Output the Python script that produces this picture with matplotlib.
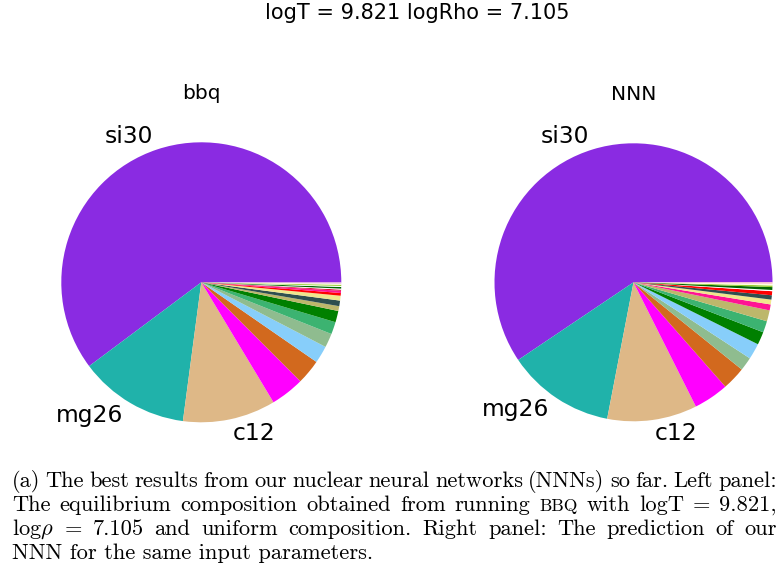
import matplotlib
matplotlib.use("Agg")
import matplotlib.pyplot as plt

plt.rcParams['mathtext.fontset'] = 'cm'

# ---------------- data ----------------
suptitle = "logT = 9.821 logRho = 7.105"
panel_titles = ["bbq", "NNN"]

# left panel (bbq) - fractions in percent, ordered as drawn (counter-clockwise from 3 o'clock)
bbq_labels = ["si30", "mg26", "c12", "", "", "", "", "", "", "", "", "", "", "", "", "", "", "", "", "", ""]
bbq_values = [60.22, 12.69, 10.72, 3.89, 2.86, 2.00, 1.61, 1.42, 1.31, 0.56, 0.64, 0.56,
              0.31, 0.25, 0.14, 0.11, 0.19, 0.11, 0.14, 0.14, 0.14]
bbq_colors = ["blueviolet", "lightseagreen", "burlywood", "magenta", "chocolate", "lightskyblue",
              "darkseagreen", "mediumseagreen", "green", "darkkhaki", "darkslategray", "khaki",
              "red", "deeppink", "crimson", "white", "darkgreen", "white", "yellowgreen",
              "lightyellow", "plum"]

# right panel (NNN)
nnn_labels = ["si30", "mg26", "c12", "", "", "", "", "", "", "", "", "", "", "", "", "", "", "", ""]
nnn_values = [59.42, 12.53, 10.44, 4.08, 2.72, 1.58, 1.86, 1.50, 1.33, 1.28, 0.69, 0.56,
              0.50, 0.47, 0.14, 0.33, 0.19, 0.19, 0.17]
nnn_colors = ["blueviolet", "lightseagreen", "burlywood", "magenta", "chocolate", "darkseagreen",
              "lightskyblue", "green", "mediumseagreen", "darkkhaki", "deeppink", "khaki",
              "darkslategray", "red", "white", "darkgreen", "yellowgreen", "lightyellow", "pink"]

caption_lines = [
    [("(a)", 1), ("The", 1), ("best", 1), ("results", 1), ("from", 1), ("our", 1), ("nuclear", 1),
     ("neural", 1), ("networks", 1), ("(NNNs)", 1), ("so", 1), ("far.", 1), ("Left", 1), ("panel:", 1)],
    [("The", 1), ("equilibrium", 1), ("composition", 1), ("obtained", 1), ("from", 1), ("running", 1),
     ("BBQ", 0.78), ("with", 1), ("logT", 1), ("=", 1), ("9.821,", 1)],
    [(r"log$\rho$", 1), ("=", 1), ("7.105", 1), ("and", 1), ("uniform", 1), ("composition.", 1),
     ("Right", 1), ("panel:", 1), ("The", 1), ("prediction", 1), ("of", 1), ("our", 1)],
    [("NNN for the same input parameters.", 1)],
]

# ---------------- figure ----------------
W, H = 782, 571
fig = plt.figure(figsize=(W / 100, H / 100), dpi=100)


def px_axes(cx, cy, size):
    return fig.add_axes([(cx - size / 2) / W, 1 - (cy + size / 2) / H, size / W, size / H])


ax1 = px_axes(201.3, 282.3, 350)
ax2 = px_axes(633.5, 282.3, 347.5)

for ax, vals, labs, cols, title in [(ax1, bbq_values, bbq_labels, bbq_colors, panel_titles[0]),
                                    (ax2, nnn_values, nnn_labels, nnn_colors, panel_titles[1])]:
    ax.pie(vals, labels=labs, colors=cols, startangle=0, counterclock=True,
           labeldistance=1.1, textprops={'fontsize': 16.8})
    ax.set_title(title, fontsize=14.5)

fig.text(417 / W, 1 - 19 / H, suptitle, ha='center', va='baseline', fontsize=15)

# ---------------- caption (justified, Computer Modern) ----------------
renderer = fig.canvas.get_renderer()
probe = fig.text(0, 0, caption_lines[3][0][0], fontsize=10, family='cmr10')
w10 = probe.get_window_extent(renderer).width
probe.remove()
cap_fs = 10 * 362 / w10

x_left, x_right = 12, 777
baselines = [487, 511, 535, 559]

for i, words in enumerate(caption_lines):
    y = 1 - baselines[i] / H
    texts = []
    for s, sc in words:
        t = fig.text(0, y, s, fontsize=cap_fs * sc, family='cmr10', va='baseline', ha='left')
        texts.append(t)
    widths = [t.get_window_extent(renderer).width for t in texts]
    if len(texts) > 1:
        gap = (x_right - x_left - sum(widths)) / (len(texts) - 1)
    else:
        gap = 0
    x = x_left
    for t, w in zip(texts, widths):
        t.set_x(x / W)
        x += w + gap

fig.savefig("out.png", dpi=100)
